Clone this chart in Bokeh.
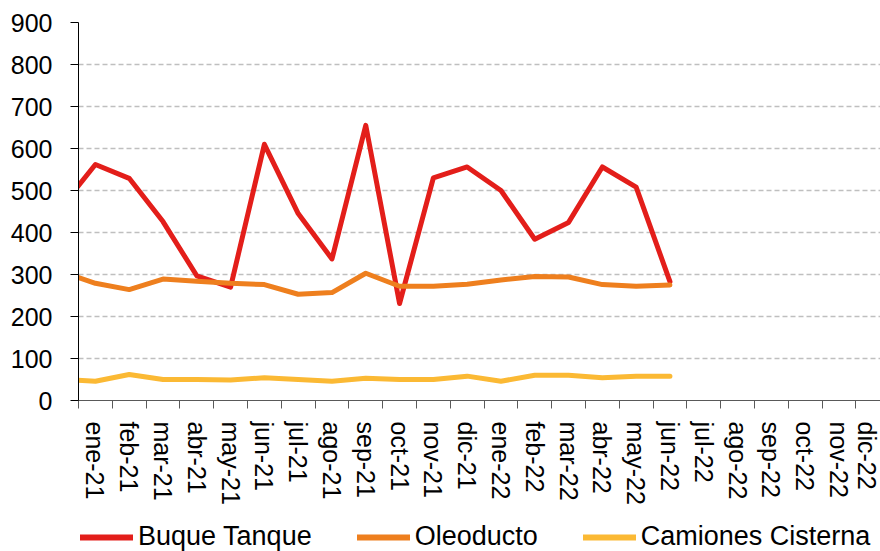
from bokeh.plotting import figure
from bokeh.layouts import column
from bokeh.models import Range1d, FixedTicker, Legend, LegendItem
from bokeh.embed import file_html
from bokeh.resources import INLINE

# months (first one only feeds the clipped start of the lines)
months = ["dic-20", "ene-21", "feb-21", "mar-21", "abr-21", "may-21", "jun-21",
          "jul-21", "ago-21", "sep-21", "oct-21", "nov-21", "dic-21",
          "ene-22", "feb-22", "mar-22", "abr-22", "may-22", "jun-22",
          "jul-22", "ago-22", "sep-22", "oct-22", "nov-22", "dic-22"]
buque_tanque = [461, 562, 529, 426, 297, 270, 610, 445, 337, 655, 231, 530, 556,
                500, 384, 424, 556, 508, 283]
oleoducto = [306, 279, 264, 289, 284, 279, 276, 253, 257, 303, 272, 272, 277,
             287, 295, 294, 276, 272, 275]
camiones_cisterna = [50, 46, 62, 50, 50, 49, 54, 50, 46, 53, 50, 50, 58,
                     46, 60, 60, 54, 58, 58]
y_ticks = [0, 100, 200, 300, 400, 500, 600, 700, 800, 900]

series = [("Buque Tanque", buque_tanque, "#E31E1A"),
          ("Oleoducto", oleoducto, "#EE7F1E"),
          ("Camiones Cisterna", camiones_cisterna, "#FBB934")]

FONT = "Liberation Sans"

p = figure(width=880, height=510, output_backend="svg", toolbar_location=None,
           x_range=Range1d(0.5, 24.23), y_range=Range1d(0, 900),
           min_border_left=78, min_border_right=0, min_border_top=22,
           min_border_bottom=110)
p.outline_line_color = None
p.background_fill_color = "white"
p.border_fill_color = "white"

for name, vals, col in series:
    xs = list(range(len(vals)))
    p.line(xs, vals, line_color=col, line_width=5, line_join="round", line_cap="round")

# x axis: labels at month centers, tick marks at month boundaries
centers = list(range(1, len(months)))
bounds = [i + 0.5 for i in range(len(months))]
xa = p.xaxis[0]
xa.ticker = FixedTicker(ticks=centers, minor_ticks=bounds)
xa.major_label_overrides = {i: months[i] for i in centers}
xa.major_label_orientation = "vertical"
xa.major_label_text_font = FONT
xa.major_label_text_font_size = "25px"
xa.major_label_text_color = "black"
xa.major_tick_line_color = None
xa.major_tick_out = 8
xa.major_tick_in = 0
xa.major_label_standoff = 13
xa.minor_tick_line_color = "#595959"
xa.minor_tick_out = 8
xa.minor_tick_in = 0
xa.axis_line_color = "#595959"

ya = p.yaxis[0]
ya.ticker = FixedTicker(ticks=y_ticks)
ya.major_label_text_font = FONT
ya.major_label_text_font_size = "25px"
ya.major_label_text_color = "black"
ya.major_tick_out = 8
ya.major_tick_in = 0
ya.major_tick_line_color = "black"
ya.minor_tick_line_color = None
ya.axis_line_color = "black"
ya.major_label_standoff = 18

p.xgrid.grid_line_color = None
p.ygrid.grid_line_color = "#BFBFBF"
p.ygrid.grid_line_dash = "5 3"
p.ygrid.grid_line_width = 1.5

# legend strip below the chart (its lines sit outside the strip's visible range)
lg = figure(width=880, height=41, output_backend="svg", toolbar_location=None,
            x_range=Range1d(0.5, 24.23), y_range=Range1d(2000, 2100),
            x_axis_type=None, y_axis_type=None,
            min_border_left=0, min_border_right=0, min_border_top=0,
            min_border_bottom=0)
lg.outline_line_color = None
lg.grid.visible = False
items = []
for name, vals, col in series:
    xs = list(range(len(vals)))
    r = lg.line(xs, vals, line_color=col, line_width=6, line_cap="round")
    items.append(LegendItem(label=name, renderers=[r]))
legend = Legend(items=items, orientation="horizontal", location=(2, -1),
                label_text_font=FONT, label_text_font_size="27px",
                label_text_color="black", glyph_width=53, glyph_height=20,
                label_standoff=5, spacing=45, padding=0, margin=0,
                border_line_color=None, background_fill_alpha=0)
lg.add_layout(legend, "center")

layout = column(p, lg, spacing=0)
open("out.html", "w").write(file_html(layout, INLINE))
